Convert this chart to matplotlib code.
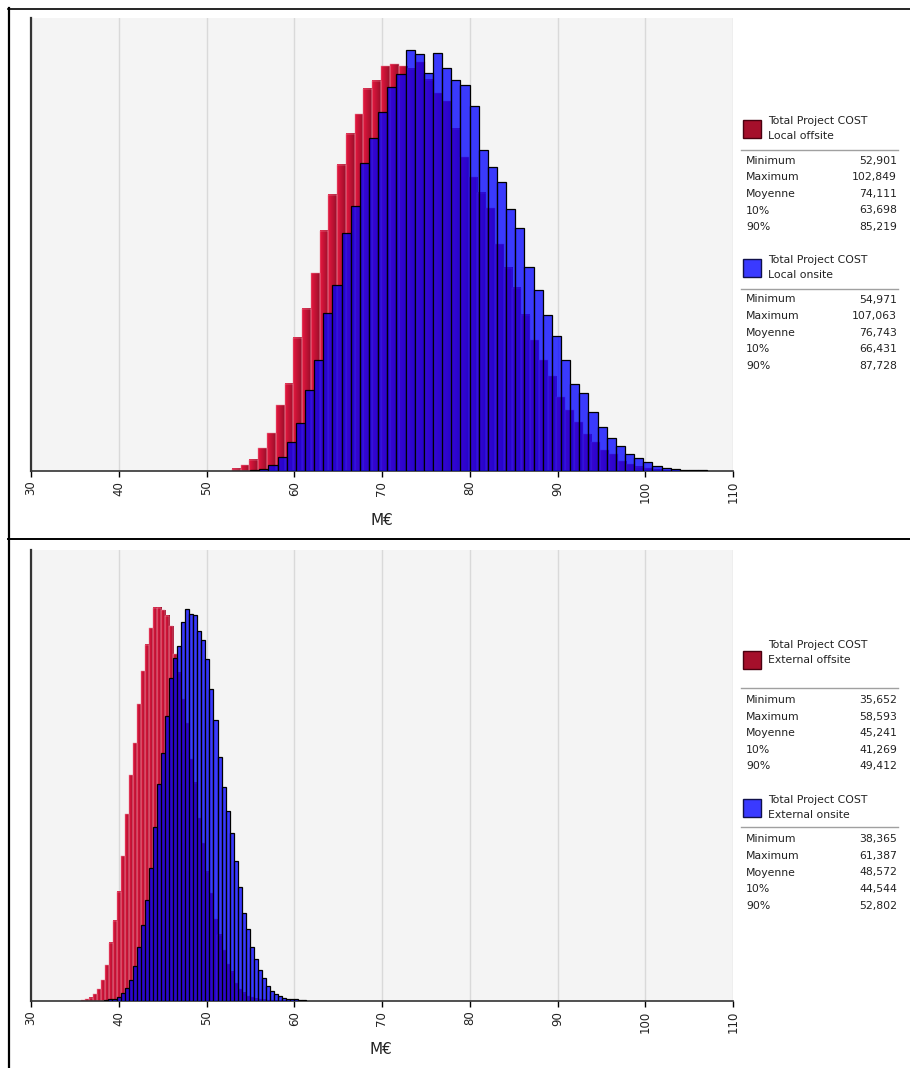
import numpy as np
import matplotlib.pyplot as plt
from matplotlib.colors import LinearSegmentedColormap
from matplotlib.patches import Rectangle
from matplotlib.lines import Line2D

# figure size in pixels
W, H = 910, 1068

# bin heights (relative frequency, 50 bins between min and max)
local_off_h = [2.3, 5.7, 11.3, 22.7, 38, 66, 87.3, 133.3, 162.3, 198,
               240.3, 276.3, 306.3, 337.3, 356.7, 382.3, 390.3, 404.7, 407, 404.7,
               402.3, 409, 391.3, 378, 370, 342.3, 314, 294, 278.3, 262.7,
               226.7, 203.3, 183.3, 156.3, 130.7, 110.7, 95, 73.7, 60.7, 49,
               36.7, 29, 21, 16.7, 10, 6.7, 4.3, 3, 2, 1]
local_on_h = [1.3, 2.3, 6.3, 14.3, 28.7, 47.7, 81.3, 111.3, 158.3, 186.3,
              238, 264.7, 308.3, 333, 358.7, 384, 397.3, 421.3, 416.7, 397.7,
              418, 403.3, 391, 385.7, 365, 320.7, 303.7, 289, 262.3, 243.3,
              204.3, 181, 156, 135, 111.3, 87.3, 78, 59, 44, 33.3,
              25, 17.3, 13.3, 8.7, 5.3, 3.3, 2, 1, 1, 1]
ext_off_h = [1, 2, 3.3, 7, 12, 21, 36, 58.3, 80, 109,
             145, 187, 225.7, 258, 297, 329.7, 356.3, 372.7, 393.3, 393.3,
             391, 385.3, 375, 347, 328.3, 301.7, 277.7, 241.7, 218.3, 182.7,
             157.7, 129.3, 107.7, 81.7, 66, 51, 37, 29.3, 17.7, 11.7,
             8.3, 5, 3.7, 2.3, 1.7, 1.3, 1, 0.7, 0.5, 0.3]
ext_on_h = [1, 1.7, 1.7, 4.3, 7.7, 13.3, 21, 35.3, 54.3, 75.7,
            101, 132.7, 173.7, 217, 248.3, 285, 322.7, 342.7, 355.3, 378.7,
            392, 386.7, 386, 370, 361, 342, 312, 280.7, 243.7, 213.7,
            190.3, 168.3, 140.3, 113.7, 87.7, 72, 54, 42, 31, 23.3,
            15.3, 9.7, 7, 5, 3, 2.3, 2, 2, 1, 0.7]

stat_names = ["Minimum", "Maximum", "Moyenne", "10%", "90%"]
local_off_stats = [52.901, 102.849, 74.111, 63.698, 85.219]
local_on_stats = [54.971, 107.063, 76.743, 66.431, 87.728]
ext_off_stats = [35.652, 58.593, 45.241, 41.269, 49.412]
ext_on_stats = [38.365, 61.387, 48.572, 44.544, 52.802]

x_ticks = list(range(30, 111, 10))

red_cmap = LinearSegmentedColormap.from_list("redgrad", ["#e3183f", "#c01234", "#9a0f2b"])


def fx(x):
    return x / W


def fy(y):
    return 1 - y / H


def draw_hist(ax, off_h, on_h, off_stats, on_stats, ymax):
    ax.set_facecolor("#f4f4f4")
    e_off = np.linspace(off_stats[0], off_stats[1], len(off_h) + 1)
    e_on = np.linspace(on_stats[0], on_stats[1], len(on_h) + 1)
    grad = np.linspace(0, 1, 16).reshape(1, -1)
    for i, h in enumerate(off_h):
        ax.imshow(grad, cmap=red_cmap, extent=[e_off[i], e_off[i + 1], 0, h],
                  aspect="auto", interpolation="bilinear", zorder=2)
    ax.bar(e_off[:-1], off_h, width=np.diff(e_off), align="edge",
           facecolor="none", edgecolor="#e98a9c", linewidth=0.35, zorder=2.5)
    ax.bar(e_on[:-1], on_h, width=np.diff(e_on), align="edge",
           facecolor=(0.0, 0.0, 1.0, 0.76), edgecolor="black", linewidth=0.9, zorder=3)
    ax.set_xlim(30, 110)
    ax.set_ylim(0, ymax)
    ax.set_xticks(x_ticks)
    ax.set_yticks([])
    ax.grid(axis="x", color="#d9d9d9", linewidth=1, zorder=1)
    ax.set_axisbelow(True)
    for s in ["top", "right"]:
        ax.spines[s].set_visible(False)
    ax.spines["left"].set_color("#333333")
    ax.spines["left"].set_linewidth(1.6)
    ax.spines["bottom"].set_color("#333333")
    ax.spines["bottom"].set_linewidth(1.2)
    ax.tick_params(axis="x", length=4, width=1, color="black", labelsize=8.5,
                   labelrotation=90, pad=3, labelcolor="#222222")


def draw_legend(text_y, name, sq_y, sq_col, sq_edge, sep_y, row_y, stats):
    fig.add_artist(Rectangle((fx(743), fy(sq_y + 18)), 18 / W, 18 / H,
                             transform=fig.transFigure, facecolor=sq_col,
                             edgecolor=sq_edge, linewidth=1))
    fig.text(fx(768), fy(text_y), "Total Project COST", fontsize=7.8,
             va="center", ha="left", color="#222222")
    fig.text(fx(768), fy(text_y + 15), name, fontsize=7.8,
             va="center", ha="left", color="#222222")
    fig.add_artist(Line2D([fx(741), fx(898)], [fy(sep_y), fy(sep_y)],
                          transform=fig.transFigure, color="#a0a0a0", lw=1))
    for k in range(len(stat_names)):
        y = row_y + k * 16.6
        fig.text(fx(746), fy(y), stat_names[k], fontsize=7.8,
                 va="center", ha="left", color="#222222")
        fig.text(fx(897), fy(y), f"{stats[k]:.3f}".replace(".", ","), fontsize=7.8,
                 va="center", ha="right", color="#222222")


fig = plt.figure(figsize=(W / 100, H / 100), dpi=100)

ax1 = fig.add_axes([fx(31), fy(471), 702 / W, 453 / H])
draw_hist(ax1, local_off_h, local_on_h, local_off_stats, local_on_stats, 453)
fig.text(fx(382), fy(520), "M€", fontsize=11, ha="center", va="center", color="#222222")

ax2 = fig.add_axes([fx(31), fy(1001), 702 / W, 451 / H])
draw_hist(ax2, ext_off_h, ext_on_h, ext_off_stats, ext_on_stats, 451)
fig.text(fx(381), fy(1050), "M€", fontsize=11, ha="center", va="center", color="#222222")

# legends / statistics
draw_legend(121, "Local offsite", 120, "#a50f2b", "#4a0010", 149.5, 160.7, local_off_stats)
draw_legend(260, "Local onsite", 259, "#3a3aff", "#10104a", 289, 299.5, local_on_stats)
draw_legend(645, "External offsite", 651, "#a50f2b", "#4a0010", 688, 700, ext_off_stats)
draw_legend(800, "External onsite", 799, "#3a3aff", "#10104a", 827.3, 839.3, ext_on_stats)

# panel frames
fig.add_artist(Line2D([fx(9), fx(9)], [fy(8), fy(1068)], transform=fig.transFigure, color="black", lw=1.6))
fig.add_artist(Line2D([fx(8), fx(910)], [fy(8.5), fy(8.5)], transform=fig.transFigure, color="black", lw=1.2))
fig.add_artist(Line2D([fx(8), fx(910)], [fy(539), fy(539)], transform=fig.transFigure, color="black", lw=1.4))

fig.savefig("out.png", dpi=100, facecolor="white")
